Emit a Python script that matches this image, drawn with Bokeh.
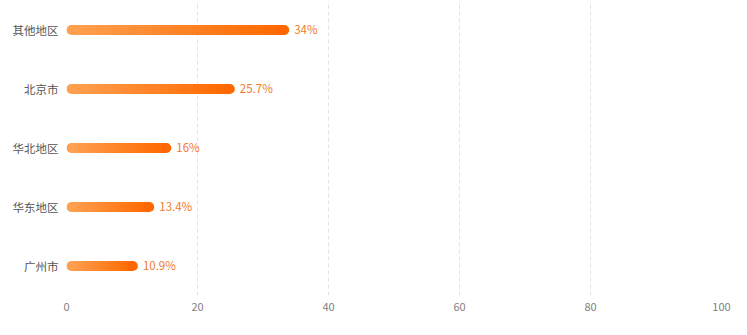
from bokeh.plotting import figure
from bokeh.models import ColumnDataSource, FactorRange, Range1d, FixedTicker
from bokeh.core.properties import value
from bokeh.embed import file_html
from bokeh.resources import INLINE

# Regional share (%), top to bottom
regions = ["其他地区", "北京市", "华北地区", "华东地区", "广州市"]
shares = [34, 25.7, 16, 13.4, 10.9]
share_labels = ["34%", "25.7%", "16%", "13.4%", "10.9%"]
x_ticks = [0, 20, 40, 60, 80, 100]

W, H = 747, 335
LEFT, RIGHT, TOP, BOTTOM = 66, 26, 0, 40
FONT = "Noto Sans CJK SC"

p = figure(
    width=W, height=H,
    y_range=FactorRange(factors=list(reversed(regions))),
    x_range=Range1d(0, 100),
    output_backend="svg", toolbar_location=None,
    min_border_left=LEFT, min_border_right=RIGHT,
    min_border_top=TOP, min_border_bottom=BOTTOM,
)
p.outline_line_color = None
p.background_fill_color = "white"
p.border_fill_color = "white"

# bar geometry: 10px tall with rounded ends
frame_w = W - LEFT - RIGHT
px_per_unit = frame_w / 100.0
bar_px = 10
cap = (bar_px / 2) / px_per_unit
bar_h = bar_px / (H - TOP - BOTTOM) * len(regions)

c0 = (255, 160, 80)
c1 = (255, 104, 0)


def mix(t):
    return "#%02x%02x%02x" % tuple(int(round(a + (b - a) * t)) for a, b in zip(c0, c1))


# gradient body built from overlapping thin slices (each runs to the bar end,
# later slices painted over earlier ones)
N = 60
ys, lefts, rights, cols = [], [], [], []
for reg, v in zip(regions, shares):
    a, b = cap, v - cap
    for i in range(N):
        ys.append(reg)
        lefts.append(a + (b - a) * i / N)
        rights.append(b)
        cols.append(mix((i + 0.5) / N))
p.hbar(y="y", left="l", right="r", height=bar_h, fill_color="c", line_color=None,
       source=ColumnDataSource(dict(y=ys, l=lefts, r=rights, c=cols)))

# round caps
p.scatter(x=[cap] * len(regions), y=regions, size=bar_px, marker="circle",
          fill_color=mix(0), line_color=None)
p.scatter(x=[v - cap for v in shares], y=regions, size=bar_px, marker="circle",
          fill_color=mix(1), line_color=None)

# value labels
p.text(x=shares, y=regions, text=share_labels, x_offset=5, y_offset=-1,
       text_baseline="middle", text_align="left",
       text_font=value(FONT), text_font_size="11.5px", text_color="#f07a2c")

# axes
p.xaxis.ticker = FixedTicker(ticks=x_ticks)
p.xaxis.axis_line_color = None
p.xaxis.major_tick_line_color = None
p.xaxis.minor_tick_line_color = None
p.xaxis.major_label_standoff = 1
p.xaxis.major_label_text_font = FONT
p.xaxis.major_label_text_font_size = "11px"
p.xaxis.major_label_text_color = "#7f7f7f"

p.yaxis.axis_line_color = None
p.yaxis.major_tick_line_color = None
p.yaxis.minor_tick_line_color = None
p.yaxis.major_label_standoff = 2
p.yaxis.major_label_text_font = FONT
p.yaxis.major_label_text_font_size = "11.5px"
p.yaxis.major_label_text_color = "#555555"

p.ygrid.grid_line_color = None
p.xgrid.grid_line_color = "#e3e3e3"
p.xgrid.grid_line_dash = "4 3"
p.xgrid.grid_line_width = 1

open("out.html", "w").write(file_html(p, INLINE))
